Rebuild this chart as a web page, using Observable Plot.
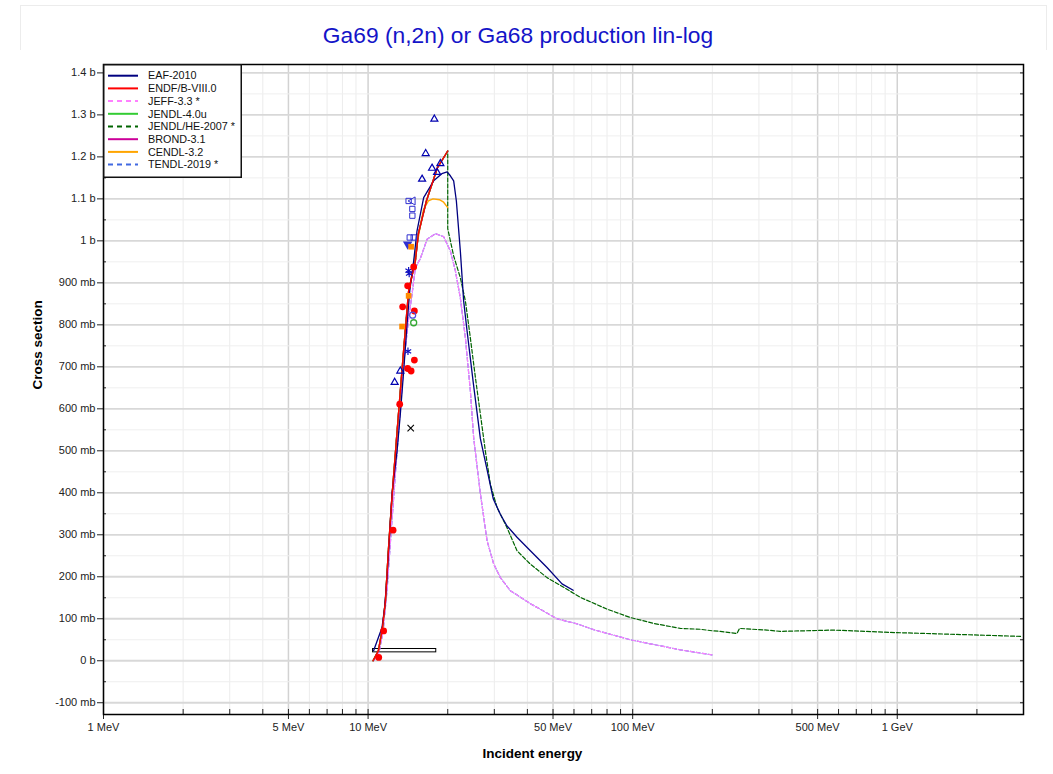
<!DOCTYPE html>
<html><head><meta charset="utf-8">
<script src="https://cdn.jsdelivr.net/npm/d3@7"></script>
<script src="https://cdn.jsdelivr.net/npm/@observablehq/plot@0.6"></script>
<style>
body{margin:0;background:#fff;font-family:"Liberation Sans",Arial,sans-serif;}
#wrap{position:relative;width:1053px;height:774px;overflow:hidden;background:#fff;}
#border{position:absolute;left:20px;top:5px;width:1025px;height:800px;border:1px solid #ececec;}
#title{position:absolute;left:0;top:0;width:1036px;height:50px;text-align:center;font-size:22.8px;color:#1414c8;line-height:20px;padding-top:25px;box-sizing:border-box;}
#chart{position:absolute;left:0;top:50px;}
#legend{position:absolute;left:103px;top:64px;}
</style></head><body>
<div id="wrap"><div id="border"></div><div id="title">Ga69 (n,2n) or Ga68 production lin-log</div><div id="chart"></div><svg id="legend" width="140" height="115"></svg></div>
<script>
// ---------- axis ticks ----------
const xMajor = [1, 5, 10, 50, 100, 500, 1000];
const xLabels = ["1 MeV", "5 MeV", "10 MeV", "50 MeV", "100 MeV", "500 MeV", "1 GeV"];
const xMinor = [2,3,4,6,7,8,9,20,30,40,60,70,80,90,200,300,400,600,700,800,900,2000,3000];
const yMajor = [-100,0,100,200,300,400,500,600,700,800,900,1000,1100,1200,1300,1400];
const yMinor = [-50,50,150,250,350,450,550,650,750,850,950,1050,1150,1250,1350];

// ---------- legend ----------
const seriesNames = ["EAF-2010","ENDF/B-VIII.0","JEFF-3.3 *","JENDL-4.0u","JENDL/HE-2007 *","BROND-3.1","CENDL-3.2","TENDL-2019 *"];
const seriesColors = ["#000080","#ff0000","#ff80ff","#33cc33","#006400","#cc0099","#ffa500","#4169e1"];
const seriesDashed = [false,false,true,false,true,false,false,true];

// ---------- evaluated curves (MeV, mb) ----------
const eafE  = [10.49,11.29,11.55,11.79,12.06,12.32,12.87,13.24,13.63,14.04,14.37,14.87,15.31,16.22,17.69,19.0,19.9,20.46,21.06,21.56,22.32,22.97,23.66,25.0,26.57,28.16,29.74,31.61,33.5,36.55,41.05,47.46,54.07,59.6];
const eafXS = [24,79,127,198,302,398,500,588,690,802,881,952,1024,1103,1143,1160,1164,1155,1143,1095,976,857,786,660,529,455,385,349,321,294,262,222,183,168];

const endfE  = [10.44,10.94,11.32,11.63,11.93,12.32,12.79,13.24,13.72,14.23,15.09,15.49,16.61,18.28,20.0];
const endfXS = [0,24,76,143,262,393,524,643,762,881,952,1017,1095,1174,1214];

const cendlE  = [10.44,10.94,11.32,11.63,11.93,12.32,12.79,13.24,13.72,14.23,14.8,15.3,15.76,16.2,16.9,17.6,18.6,19.3,20.0];
const cendlXS = [0,24,76,143,262,393,524,643,762,872,940,990,1036,1075,1095,1100,1098,1092,1079];

const jeffE  = [10.5,11.0,11.4,11.8,12.2,12.7,13.2,13.7,14.2,14.66,15.09,15.76,16.71,17.96,19.3,20.46,21.37,22.32,23.32,24.35,25.06,26.57,28.16,29.82,31.61,34.47,41.05,51.76,61.6,71.2,97.9,151.3,199.3];
const jeffXS = [0,20,70,170,300,450,590,720,810,873,936,958,1004,1017,1010,976,929,864,769,643,531,398,286,231,198,167,136,100,88,74,50,26,14];

const jhE  = [10.44,10.94,11.32,11.63,11.93,12.32,12.79,13.24,13.72,14.23,15.09,15.49,16.61,18.28,20.0,20.0,21.06,22.32,23.32,24.35,25.5,26.6,27.74,28.97,30.72,33.5,36.55,41.05,47.46,54.83,63.4,79.98,97.9,119.9,151.3,180,202.2,214.3,247.8,253.5,321.6,361,574,996.5,1832,2956];
const jhXS = [0,24,76,143,262,393,524,643,762,881,952,1017,1095,1174,1214,1029,964,912,857,769,670,585,500,421,365,317,262,230,198,175,151,123,103,89,77,75,71,70,65,77,73,70,73,67,62,58];

// ---------- experimental points (MeV, mb) ----------
const triE  = [17.8,16.51,17.45,18.76,18.23,16.0,13.24,12.6];
const triXS = [1290,1208,1173,1184,1163,1147,690,663];
const sqE   = [14.23,14.7,14.7,14.37,14.87];
const sqXS  = [1095,1076,1060,1008,1008];
const ltriE = [14.75]; const ltriXS = [1095];
const dtriE = [14.11]; const dtriXS = [992];
const astE  = [14.23,14.3,14.15]; const astXS = [929,922,737];
const orgE  = [14.54,14.23,13.44]; const orgXS = [986,869,796];
const redE  = [14.87,14.11,13.51,14.96,14.96,14.11,14.54,13.17,12.43,11.45,10.97];
const redXS = [938,893,843,833,716,696,690,611,311,71,8];
const grnE  = [14.87]; const grnXS = [805];
const bcE   = [14.74]; const bcXS = [823];
const xE    = [14.49]; const xXS = [554];
const barE1 = [10.44]; const barE2 = [18.1]; const barXS1 = [20]; const barXS2 = [28];

const pts = (E, S) => E.map((e, i) => ({e, s: S[i]}));
const ln = (E, S, stroke, dash, w) => Plot.line(pts(E, S), {x: "e", y: "s", stroke, strokeWidth: w || 1.4, strokeDasharray: dash ? "4,2" : null});

const chart = Plot.plot({
  width: 1053, height: 724,
  marginLeft: 103, marginRight: 30, marginTop: 14, marginBottom: 60,
  x: {type: "log", domain: [1, 3000]},
  y: {domain: [-128, 1420]},
  style: {fontFamily: "Liberation Sans, Arial, sans-serif", fontSize: "11px", color: "#222", background: "white", overflow: "visible"},
  marks: [
    Plot.ruleX(xMinor, {stroke: "#ececec", strokeWidth: 1}),
    Plot.ruleX(xMajor, {stroke: "#d2d2d2", strokeWidth: 1.5}),
    Plot.ruleY(yMinor, {stroke: "#efefef", strokeWidth: 1}),
    Plot.ruleY(yMajor, {stroke: "#d8d8d8", strokeWidth: 1.8}),
    Plot.axisX(xMajor, {anchor: "bottom", tickSize: 5, tickFormat: () => "", label: null}),
    Plot.axisX(xMajor, {anchor: "bottom", tickSize: -5, tickFormat: () => "", label: null}),
    Plot.axisX(xMinor, {anchor: "bottom", tickSize: -5, tickFormat: () => "", label: null}),
    Plot.text(xMajor, {x: d => d, text: (d, i) => xLabels[i], frameAnchor: "bottom", dy: 16, fontSize: 11, fill: "#222"}),
    Plot.axisY(yMajor, {anchor: "left", tickSize: 6, tickPadding: 2, tickFormat: v => v === 0 ? "0 b" : (Math.abs(v) >= 1000 ? (v / 1000) + " b" : v + " mb"), label: null, fontSize: 11}),
    Plot.axisY(yMinor, {anchor: "left", tickSize: -3, tickFormat: () => "", label: null}),
    Plot.axisY(yMajor.concat(yMinor), {anchor: "right", tickSize: -4, tickFormat: () => "", label: null}),
    Plot.rect(barE1.map((e, i) => ({x1: e, x2: barE2[i], y1: barXS1[i], y2: barXS2[i]})), {x1: "x1", x2: "x2", y1: "y1", y2: "y2", fill: "white", stroke: "black", strokeWidth: 1}),
    ln(jhE, jhXS, seriesColors[4], true, 1.2),
    ln(jeffE, jeffXS, seriesColors[7], true, 1.2),
    ln(jeffE, jeffXS, seriesColors[2], true, 1.2),
    ln(cendlE, cendlXS, seriesColors[6], false, 1.4),
    ln(endfE, endfXS, seriesColors[5], false, 1.4),
    ln(endfE, endfXS, seriesColors[3], false, 1.4),
    ln(eafE, eafXS, seriesColors[0], false, 1.3),
    ln(endfE, endfXS, seriesColors[1], false, 1.4),
    Plot.dot(pts(triE, triXS), {x: "e", y: "s", symbol: "triangle", r: 2.6, stroke: "#0000b0", strokeWidth: 1.2, fill: "none"}),
    Plot.dot(pts(sqE, sqXS), {x: "e", y: "s", symbol: "square", r: 3, stroke: "#3030d0", strokeWidth: 1, fill: "none"}),
    Plot.dot(pts(ltriE, ltriXS), {x: "e", y: "s", symbol: "triangle", rotate: -90, r: 3, stroke: "#3030d0", strokeWidth: 1, fill: "none"}),
    Plot.dot(pts(dtriE, dtriXS), {x: "e", y: "s", symbol: "triangle", rotate: 180, r: 3.5, fill: "#3030d0"}),
    Plot.dot(pts(astE, astXS), {x: "e", y: "s", symbol: "asterisk", r: 3.5, stroke: "#1010c0", strokeWidth: 1.2}),
    Plot.dot(pts(orgE, orgXS), {x: "e", y: "s", symbol: "square", r: 3.2, fill: "#ff8c00"}),
    Plot.dot(pts(redE, redXS), {x: "e", y: "s", symbol: "circle", r: 3.4, fill: "#ff0000"}),
    Plot.dot(pts(grnE, grnXS), {x: "e", y: "s", symbol: "circle", r: 3, stroke: "#33aa33", strokeWidth: 1.3, fill: "none"}),
    Plot.dot(pts(bcE, bcXS), {x: "e", y: "s", symbol: "circle", r: 3, stroke: "#5050e0", strokeWidth: 1.2, fill: "none"}),
    Plot.dot(pts(xE, xXS), {x: "e", y: "s", symbol: "times", r: 3, stroke: "black", strokeWidth: 1.1}),
    Plot.frame({stroke: "black", strokeWidth: 1.5}),
    Plot.text(["Cross section"], {text: d => d, frameAnchor: "left", dx: -66, rotate: -90, fontWeight: "bold", fontSize: 13.5, fill: "black"}),
    Plot.text(["Incident energy"], {text: d => d, frameAnchor: "bottom", dy: 43, dx: -31, fontWeight: "bold", fontSize: 13.5, fill: "black"})
  ]
});
document.getElementById("chart").appendChild(chart);

// legend box
const lg = d3.select("#legend");
lg.append("rect").attr("x", 0.75).attr("y", 0.75).attr("width", 137.5).attr("height", 112.5).attr("fill", "white").attr("stroke", "#111").attr("stroke-width", 1.5);
seriesNames.forEach((name, i) => {
  const cy = 11.7 + i * 12.7;
  lg.append("line").attr("x1", 5).attr("x2", 35).attr("y1", cy).attr("y2", cy)
    .attr("stroke", seriesColors[i]).attr("stroke-width", 2)
    .attr("stroke-dasharray", seriesDashed[i] ? "5,4" : null);
  lg.append("text").attr("x", 45).attr("y", cy).attr("dy", "0.35em")
    .attr("font-size", 10.8).attr("font-family", "Liberation Sans, Arial, sans-serif").attr("fill", "#111").text(name);
});
</script>
</body></html>
